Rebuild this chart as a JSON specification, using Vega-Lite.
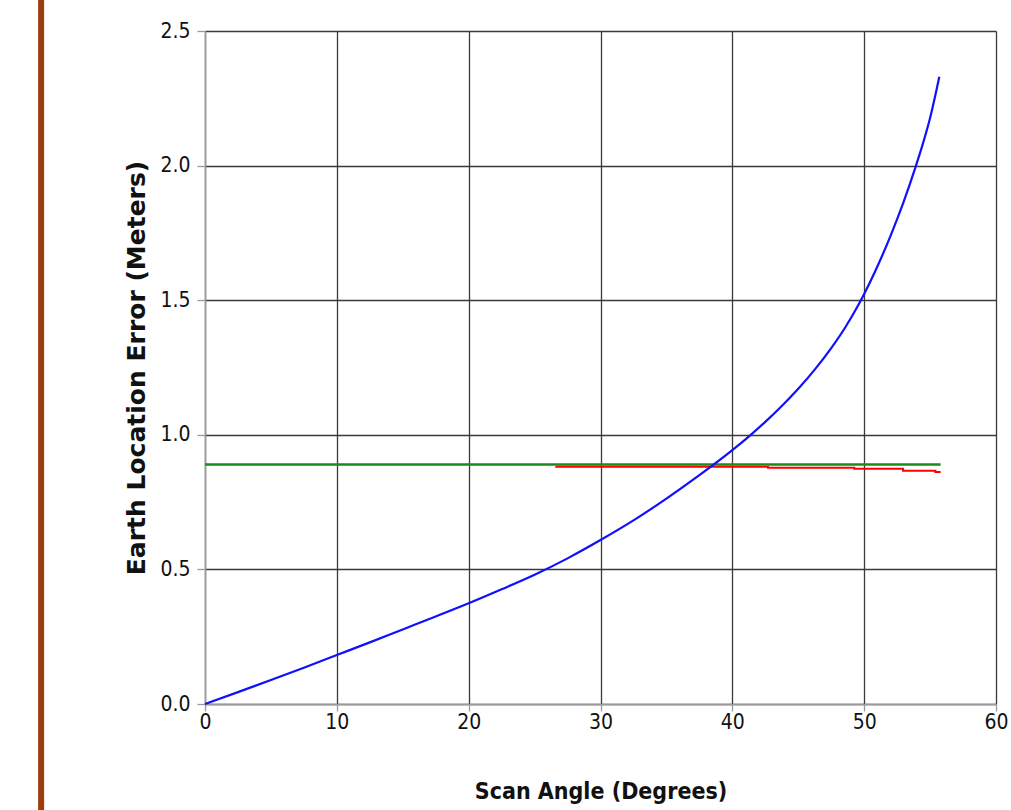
{
  "$schema": "https://vega.github.io/schema/vega-lite/v6.json",
  "autosize": "none",
  "width": 791,
  "height": 673,
  "padding": {"left": 205, "top": 31, "right": 15, "bottom": 106},
  "background": "white",
  "config": {"view": {"stroke": null}},
  "datasets": {
    "blue": [
      {"angle": 0, "error": 0}, {"angle": 2.5, "error": 0.044}, {"angle": 5, "error": 0.089},
      {"angle": 7.5, "error": 0.135}, {"angle": 10, "error": 0.182}, {"angle": 12.5, "error": 0.229},
      {"angle": 15, "error": 0.277}, {"angle": 17.5, "error": 0.325}, {"angle": 20, "error": 0.374},
      {"angle": 22.5, "error": 0.426}, {"angle": 25, "error": 0.48}, {"angle": 27.5, "error": 0.541},
      {"angle": 30, "error": 0.609}, {"angle": 32.5, "error": 0.682}, {"angle": 35, "error": 0.763},
      {"angle": 37.5, "error": 0.85}, {"angle": 40, "error": 0.943}, {"angle": 41.4, "error": 1.0},
      {"angle": 42.5, "error": 1.048}, {"angle": 43.75, "error": 1.107}, {"angle": 45, "error": 1.171},
      {"angle": 46.25, "error": 1.242}, {"angle": 47.5, "error": 1.322}, {"angle": 48.5, "error": 1.394},
      {"angle": 49.6, "error": 1.486}, {"angle": 50, "error": 1.523}, {"angle": 51, "error": 1.625},
      {"angle": 52, "error": 1.739}, {"angle": 53, "error": 1.866}, {"angle": 53.9, "error": 1.995},
      {"angle": 54.5, "error": 2.089}, {"angle": 55, "error": 2.177}, {"angle": 55.7, "error": 2.33}
    ],
    "green": [{"angle": 0, "error": 0.89}, {"angle": 55.8, "error": 0.89}],
    "red": [
      {"angle": 26.57, "error": 0.881}, {"angle": 42.7, "error": 0.878}, {"angle": 49.25, "error": 0.874},
      {"angle": 52.95, "error": 0.866}, {"angle": 55.4, "error": 0.862}, {"angle": 55.8, "error": 0.862}
    ],
    "bar": [{"angle": -12.43, "lo": -0.4, "hi": 2.62}]
  },
  "encoding": {
    "x": {
      "field": "angle", "type": "quantitative",
      "scale": {"domain": [0, 60], "nice": false},
      "axis": {
        "values": [0, 10, 20, 30, 40, 50, 60], "format": "d", "labelFlush": false,
        "title": "Scan Angle (Degrees)",
        "grid": true, "gridColor": "#3a3a3a", "gridWidth": 1.3,
        "domainColor": "#9a9a9a", "domainWidth": 1.5,
        "tickColor": "#9a9a9a", "tickSize": 7, "tickWidth": 1.3,
        "labelFont": "DejaVu Sans Condensed, Liberation Sans, sans-serif",
        "labelFontSize": 21, "labelColor": "#111", "labelPadding": 0,
        "titleFont": "DejaVu Sans Condensed, Liberation Sans, sans-serif",
        "titleFontSize": 23, "titleFontWeight": "bold", "titleColor": "#111", "titlePadding": 48
      }
    },
    "y": {
      "field": "error", "type": "quantitative",
      "scale": {"domain": [0, 2.5], "nice": false},
      "axis": {
        "values": [0, 0.5, 1, 1.5, 2, 2.5], "format": ".1f", "labelFlush": false,
        "title": "Earth Location Error (Meters)",
        "grid": true, "gridColor": "#3a3a3a", "gridWidth": 1.3,
        "domainColor": "#9a9a9a", "domainWidth": 1.5,
        "tickColor": "#9a9a9a", "tickSize": 8, "tickWidth": 1.3,
        "labelFont": "DejaVu Sans Condensed, Liberation Sans, sans-serif",
        "labelFontSize": 21, "labelColor": "#111", "labelPadding": 7,
        "titleFont": "DejaVu Sans", "titleFontSize": 25, "titleFontWeight": "bold",
        "titleColor": "#111", "titlePadding": 10
      }
    }
  },
  "layer": [
    {
      "data": {"name": "bar"},
      "mark": {"type": "rule", "color": "#9c3b0b", "strokeWidth": 6, "clip": false},
      "encoding": {"y": {"field": "lo", "type": "quantitative"}, "y2": {"field": "hi"}}
    },
    {
      "data": {"name": "red"},
      "mark": {"type": "line", "color": "#ff0000", "strokeWidth": 2, "interpolate": "step-after"}
    },
    {
      "data": {"name": "green"},
      "mark": {"type": "line", "color": "#1a8c1a", "strokeWidth": 2.5}
    },
    {
      "data": {"name": "blue"},
      "mark": {"type": "line", "color": "#1010ff", "strokeWidth": 2.2, "interpolate": "monotone"}
    }
  ]
}
